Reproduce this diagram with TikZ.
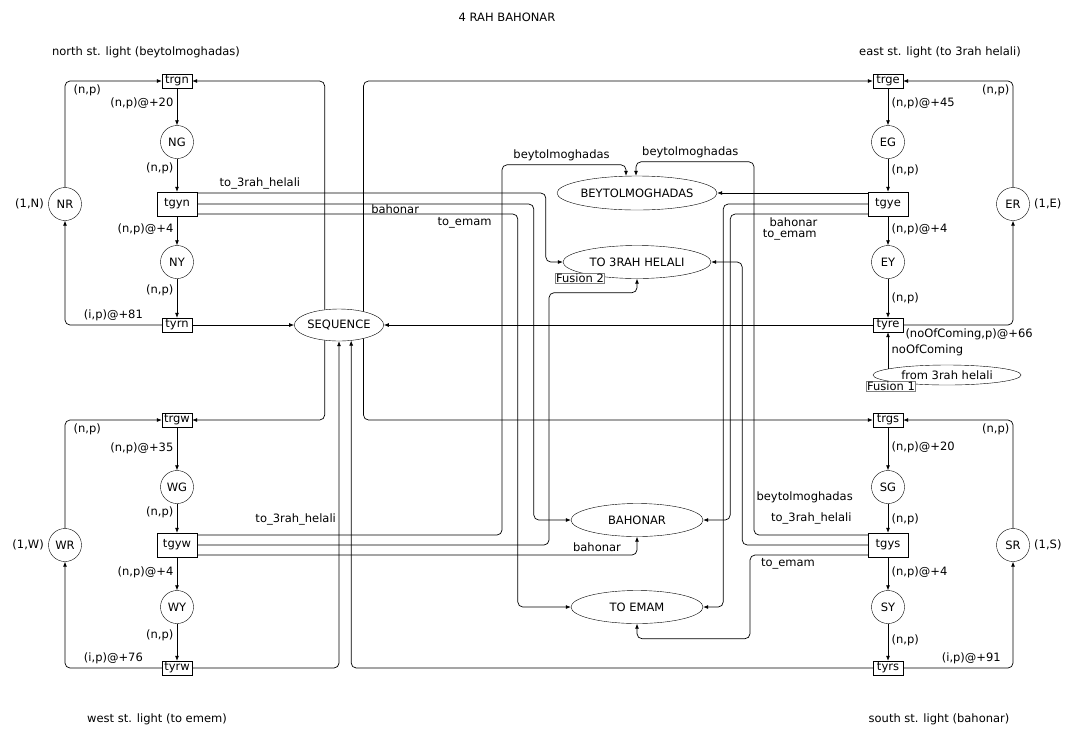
\documentclass[tikz,border=0pt]{standalone}
\usepackage{fontspec}
\setmainfont{DejaVu Sans}
\usepackage{tikz}
\usetikzlibrary{shapes,arrows.meta,positioning}

\begin{document}
\begin{tikzpicture}[
    x=1pt, y=-1pt,
    font=\fontsize{11.5}{13}\selectfont,
    place/.style={draw, circle, minimum size=33pt, inner sep=0pt},
    trans/.style={draw, minimum width=40pt, minimum height=24pt, inner sep=1pt},
    sync/.style={draw, minimum width=30pt, minimum height=14pt, inner sep=1pt},
    fusion/.style={draw, ellipse, inner sep=0pt, minimum width=132pt, minimum height=33pt},
    fustag/.style={draw=gray, fill=white, inner sep=0.6pt},
    cpnarc/.style={-{Latex[length=5pt,width=4pt]}, line width=0.7pt, rounded corners=5pt}
]
    \useasboundingbox (0,0) rectangle (1067,729);

    % Captions
    \node (title) at (507,17) {4 RAH BAHONAR};
    \node (capn) at (146,52) {north st. light (beytolmoghadas)};
    \node (cape) at (940,52) {east st. light (to 3rah helali)};
    \node (capw) at (157,719) {west st. light (to emem)};
    \node (caps) at (939,719) {south st. light (bahonar)};

    % North light
    \node[sync] (trgn) at (177,81) {trgn};
    \node[place] (NG) at (177,142) {NG};
    \node[trans] (tgyn) at (177,204) {tgyn};
    \node[place] (NY) at (177,262) {NY};
    \node[sync] (tyrn) at (177,325) {tyrn};
    \node[place] (NR) at (65,204) {NR};
    \node[left=1pt of NR] (NRinit) {(1,N)};

    % West light
    \node[sync] (trgw) at (177,420) {trgw};
    \node[place] (WG) at (177,487) {WG};
    \node[trans] (tgyw) at (177,545) {tgyw};
    \node[place] (WY) at (177,607) {WY};
    \node[sync] (tyrw) at (177,668) {tyrw};
    \node[place] (WR) at (65,545) {WR};
    \node[left=1pt of WR] (WRinit) {(1,W)};

    % East light
    \node[sync] (trge) at (888,81) {trge};
    \node[place] (EG) at (888,142) {EG};
    \node[trans] (tgye) at (888,204) {tgye};
    \node[place] (EY) at (888,262) {EY};
    \node[sync] (tyre) at (888,325) {tyre};
    \node[place] (ER) at (1013,204) {ER};
    \node[right=1pt of ER] (ERinit) {(1,E)};

    % South light
    \node[sync] (trgs) at (888,420) {trgs};
    \node[place] (SG) at (888,487) {SG};
    \node[trans] (tgys) at (888,545) {tgys};
    \node[place] (SY) at (888,607) {SY};
    \node[sync] (tyrs) at (888,668) {tyrs};
    \node[place] (SR) at (1013,545) {SR};
    \node[right=1pt of SR] (SRinit) {(1,S)};

    % Shared places
    \node[draw, ellipse, inner sep=0pt, minimum width=86pt, minimum height=32pt] (seq) at (339,325) {SEQUENCE};
    \node[fusion, minimum width=160pt, minimum height=34pt] (beyt) at (637,193) {BEYTOLMOGHADAS};
    \node[fusion, minimum width=148pt] (helali) at (637,262) {TO 3RAH HELALI};
    \node[fusion] (bahonar) at (637,520) {BAHONAR};
    \node[fusion] (emam) at (637,607) {TO EMAM};
    \node[fusion, minimum width=148pt, minimum height=20pt] (from3) at (947,375) {from 3rah helali};
    \node[fustag] (fus2) at (580,278) {Fusion 2};
    \node[fustag] (fus1) at (891,386) {Fusion 1};

    % North arcs
    \draw[cpnarc] (NR.north) |- node[pos=0.5, below right, xshift=5pt] {(n,p)} (trgn.west);
    \draw[cpnarc] (trgn) -- node[pos=0.4, left] {(n,p)@+20} (NG);
    \draw[cpnarc] (NG) -- node[pos=0.3, left] {(n,p)} (tgyn);
    \draw[cpnarc] (tgyn) -- node[pos=0.46, left] {(n,p)@+4} (NY);
    \draw[cpnarc] (NY) -- node[pos=0.31, left] {(n,p)} (tyrn);
    \draw[cpnarc] (tyrn.west) -| node[pos=0.25, above] {(i,p)@+81} (NR.south);
    \draw[cpnarc] (tyrn) -- (seq);

    % West arcs
    \draw[cpnarc] (WR.north) |- node[pos=0.5, below right, xshift=5pt] {(n,p)} (trgw.west);
    \draw[cpnarc] (trgw) -- node[pos=0.49, left] {(n,p)@+35} (WG);
    \draw[cpnarc] (WG) -- node[pos=0.31, left] {(n,p)} (tgyw);
    \draw[cpnarc] (tgyw) -- node[pos=0.46, left] {(n,p)@+4} (WY);
    \draw[cpnarc] (WY) -- node[pos=0.32, left] {(n,p)} (tyrw);
    \draw[cpnarc] (tyrw.west) -| node[pos=0.25, above] {(i,p)@+76} (WR.south);
    \draw[cpnarc] (tyrw.east) -| (seq.south);

    % East arcs
    \draw[cpnarc] (ER.north) |- node[pos=0.5, below left] {(n,p)} (trge.east);
    \draw[cpnarc] (trge) -- node[pos=0.4, right] {(n,p)@+45} (EG);
    \draw[cpnarc] (EG) -- node[pos=0.36, right] {(n,p)} (tgye);
    \draw[cpnarc] (tgye) -- node[pos=0.46, right] {(n,p)@+4} (EY);
    \draw[cpnarc] (EY) -- node[pos=0.5, right] {(n,p)} (tyre);
    \draw[cpnarc] (tyre.east) -| node[pos=0.3, below] {(noOfComing,p)@+66} (ER.south);
    \draw[cpnarc] (tyre.west) -- (seq.east);
    \draw[cpnarc] (tyre.south |- from3.174) -- node[right] {noOfComing} (tyre.south);

    % South arcs
    \draw[cpnarc] (SR.north) |- node[pos=0.5, below left] {(n,p)} (trgs.east);
    \draw[cpnarc] (trgs) -- node[pos=0.47, right] {(n,p)@+20} (SG);
    \draw[cpnarc] (SG) -- node[pos=0.55, right] {(n,p)} (tgys);
    \draw[cpnarc] (tgys) -- node[pos=0.46, right] {(n,p)@+4} (SY);
    \draw[cpnarc] (SY) -- node[pos=0.45, right] {(n,p)} (tyrs);
    \draw[cpnarc] (tyrs.east) -| node[pos=0.31, above] {(i,p)@+91} (SR.south);
    \draw[cpnarc] (tyrs.west) -| (seq.308);

    % SEQUENCE to the green transitions
    \draw[cpnarc] (seq.133) |- (trgn.east);
    \draw[cpnarc] (seq.29) |- (trge.west);
    \draw[cpnarc] (seq.227) |- (trgw.east);
    \draw[cpnarc] (seq.331) |- (trgs.west);

    % Cars leaving north
    \draw[cpnarc] ([yshift=11pt]tgyn.east) -| node[pos=0.09, above] {to\_3rah\_helali} ([xshift=-17pt]helali.west) -- (helali.west);
    \draw[cpnarc] (tgyn.east) -| node[pos=0.294, below, inner sep=0.5pt] {bahonar} ([xshift=-37pt]bahonar.west) -- (bahonar.west);
    \draw[cpnarc] ([yshift=-10pt]tgyn.east) -| node[pos=0.417, below] {to\_emam} ([xshift=-53pt]emam.west) -- (emam.west);

    % Cars leaving west
    \draw[cpnarc] ([yshift=10pt]tgyw.east) -| ([xshift=-135pt,yshift=11pt]beyt.north)
        -| node[pos=0.24, above] {beytolmoghadas} ([xshift=-11pt]beyt.north);
    \draw[cpnarc] (tgyw.east) -| node[pos=0.14, above=16pt] {to\_3rah\_helali} ([xshift=-88pt,yshift=-14pt]helali.south) -| (helali.south);
    \draw[cpnarc] ([yshift=-10pt]tgyw.east) -| node[pos=0.4545, above] {bahonar} (bahonar.south);

    % Cars leaving east
    \draw[cpnarc] ([yshift=11pt]tgye.west) -- (beyt.east);
    \draw[cpnarc] (tgye.west) -| node[pos=0.27, below=22pt] {to\_emam} ([xshift=20pt]emam.east) -- (emam.east);
    \draw[cpnarc] ([yshift=-10pt]tgye.west) -| node[pos=0.27, below] {bahonar} ([xshift=27pt]bahonar.east) -- (bahonar.east);

    % Cars leaving south
    \draw[cpnarc] ([yshift=10pt]tgys.west) -| node[pos=0.05, anchor=south east, yshift=28pt] {beytolmoghadas} ([xshift=117pt,yshift=14pt]beyt.north)
        -| node[pos=0.27, above] {beytolmoghadas} ([xshift=-1pt]beyt.north);
    \draw[cpnarc] (tgys.west) -| node[pos=0.05, anchor=south east, yshift=17pt] {to\_3rah\_helali} ([xshift=31pt]helali.east) -- (helali.east);
    \draw[cpnarc] ([yshift=-10pt]tgys.west) -| node[pos=0.339, below] {to\_emam} ([xshift=113pt,yshift=-15pt]emam.south) -| (emam.south);
\end{tikzpicture}
\end{document}
